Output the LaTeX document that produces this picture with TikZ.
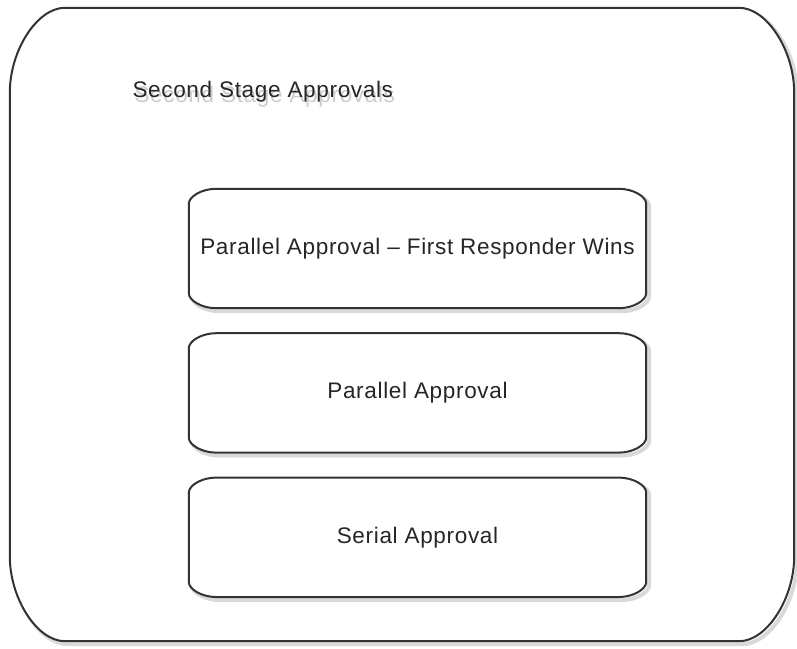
\documentclass[tikz,border=0pt]{standalone}
\usepackage{fontspec}
\setmainfont{Liberation Sans}[LetterSpace=3]
\usetikzlibrary{calc,positioning}

% outline with flat elliptic corners, drawn round a named node
\newcommand\softoutline[3]{%
  ($(#1.north west)+(#2,0)$) -- ($(#1.north east)+(-#2,0)$)
  .. controls +(0.5*#2,0) and +(0,-0.5*#3) .. ($(#1.north east)+(0,#3)$)
  -- ($(#1.south east)+(0,-#3)$)
  .. controls +(0,0.5*#3) and +(0.5*#2,0) .. ($(#1.south east)+(-#2,0)$)
  -- ($(#1.south west)+(#2,0)$)
  .. controls +(-0.5*#2,0) and +(0,0.5*#3) .. ($(#1.south west)+(0,-#3)$)
  -- ($(#1.north west)+(0,#3)$)
  .. controls +(0,-0.5*#3) and +(-0.5*#2,0) .. ($(#1.north west)+(#2,0)$)
  -- cycle}

\tikzset{
  outline/.style={draw=black!80,line width=2pt,fill=white},
  shadowline/.style={draw=black!15,line width=4pt,
    transform canvas={shift={(3pt,-3pt)}}},
  approval/.style={minimum width=457pt,minimum height=119pt,inner sep=0pt,
    text=black!85},
}

\begin{document}
\begin{tikzpicture}[x=1pt,y=-1pt,font=\fontsize{22.5}{26}\selectfont]
  \useasboundingbox (0,0) rectangle (797,648);

  % container
  \node[minimum width=784pt,minimum height=633pt,inner sep=0pt] (stage) at (402,324.5) {};
  \draw[shadowline] \softoutline{stage}{55}{85};
  \draw[outline] \softoutline{stage}{55}{85};

  \node[text=black!20,anchor=west] (titleghost) at (131,97) {Second Stage Approvals};
  \node[text=black!85,anchor=west] (title) at (129,92) {Second Stage Approvals};

  % the three kinds of approval
  \node[approval] (firstwins) at (417.5,248.5) {};
  \node[approval,below=25pt of firstwins] (parallel) {};
  \node[approval,below=25pt of parallel] (serial) {};

  \foreach \b in {firstwins,parallel,serial}{
    \draw[shadowline] \softoutline{\b}{27}{15};
    \draw[outline] \softoutline{\b}{27}{15};
  }

  \node[text=black!85] at (firstwins) {Parallel Approval -- First Responder Wins};
  \node[text=black!85] at (parallel) {Parallel Approval};
  \node[text=black!85] at (serial) {Serial Approval};
\end{tikzpicture}
\end{document}
